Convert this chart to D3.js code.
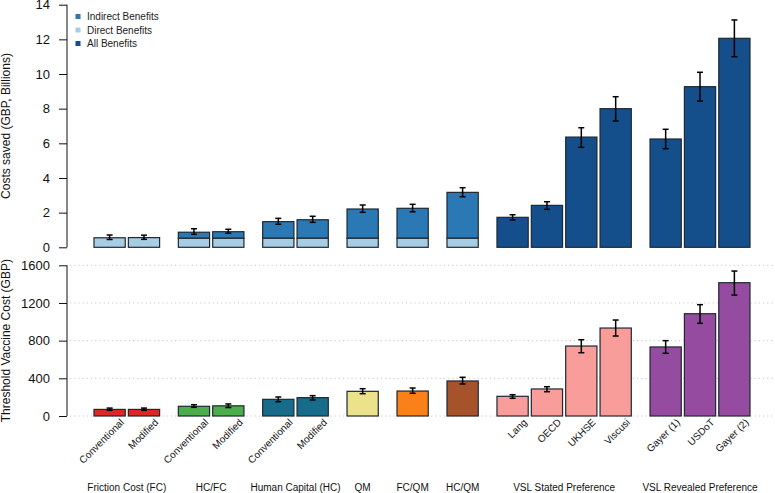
<!DOCTYPE html>
<html>
<head>
<meta charset="utf-8">
<script src="https://cdn.jsdelivr.net/npm/d3@7"></script>
<style>
  body { margin: 0; background: #fff; }
  svg { font-family: "Liberation Sans", Arial, Helvetica, sans-serif; display: block; }
</style>
</head>
<body>
<div class="board"></div>
<script>
const W = 775, H = 493

// bar labels, groups
const barLabels = ["Conventional", "Modified", "Conventional", "Modified", "Conventional", "Modified",
    "", "", "", "Lang", "OECD", "UKHSE", "Viscusi", "Gayer (1)", "USDoT", "Gayer (2)"]
const groupNames = ["Friction Cost (FC)", "HC/FC", "Human Capital (HC)", "QM", "FC/QM", "HC/QM",
    "VSL Stated Preference", "VSL Revealed Preference"]
const groupSizes = [2, 2, 2, 1, 1, 1, 4, 3]

// top panel: costs saved (GBP billions)
const savedTotal = [0.55, 0.56, 0.87, 0.90, 1.48, 1.59, 2.21, 2.25, 3.17, 1.73, 2.42, 6.36, 8.00, 6.25, 9.27, 12.06]
const savedLow   = [0.45, 0.46, 0.75, 0.81, 1.33, 1.44, 2.02, 2.05, 2.92, 1.58, 2.19, 5.77, 7.29, 5.69, 8.44, 11.00]
const savedHigh  = [0.71, 0.70, 1.07, 1.04, 1.67, 1.79, 2.44, 2.48, 3.44, 1.88, 2.63, 6.90, 8.69, 6.81, 10.10, 13.12]
// direct part of the stacked bars (null = "All Benefits" bar)
const savedDirect = [0.55, 0.56, 0.52, 0.52, 0.52, 0.52, 0.52, 0.52, 0.52, null, null, null, null, null, null, null]

// bottom panel: threshold vaccine cost (GBP)
const thresh     = [70, 70, 103, 108, 177, 195, 262, 265, 372, 209, 287, 743, 934, 733, 1086, 1415]
const threshLow  = [60, 60, 92, 90, 152, 170, 237, 241, 340, 188, 258, 672, 849, 666, 984, 1284]
const threshHigh = [84, 84, 120, 128, 202, 216, 290, 297, 411, 226, 311, 810, 1019, 800, 1182, 1539]

const topTicks = [0, 2, 4, 6, 8, 10, 12, 14]
const botTicks = [0, 400, 800, 1200, 1600]

const legendLabels = ["Indirect Benefits", "Direct Benefits", "All Benefits"]

const DIRECT = "#a7cde4"
const INDIRECT = "#2a79b4"
const ALL = "#154f8b"
const legendColors = [INDIRECT, DIRECT, ALL]
const groupColors = ["#dc2727", "#4bae4a", "#176b8b", "#ece28c", "#fa8019", "#a6532b", "#f99d9b", "#954b9f"]
const STROKE = "#1d2833"

var svg = d3.select(".board")
    .append("svg")
    .attr("width", W)
    .attr("height", H)

// bar layout in units of one bar width (R barplot style spacing)
let bars = []
let u = 0
groupSizes.forEach((n, g) => {
    if (g > 0) u += 0.6
    for (let k = 0; k < n; k++) {
        if (k > 0) u += 0.1
        bars.push({ i: bars.length, g: g, start: u })
        u += 1
    }
})
let xScale = d3.scaleLinear().domain([0, u]).range([94, 750])

let yTop = d3.scaleLinear().domain([0, 14]).range([247.3, 4.7])
let yBot = d3.scaleLinear().domain([0, 1600]).range([416, 265.3])

function yAxis(scale, ticks, title) {
    let ax = svg.append("g")
        .attr("transform", "translate(67,0)")
        .call(d3.axisLeft(scale).tickValues(ticks).tickSize(8).tickPadding(9).tickFormat(d3.format("d")))
    ax.select(".domain").attr("d", `M0,${scale(ticks[0])}V${scale(ticks[ticks.length - 1])}`)
        .attr("stroke", "#111")
    ax.selectAll(".tick line").attr("stroke", "#111")
    ax.selectAll(".tick text").attr("font-size", 13).attr("fill", "#111")
    let mid = (scale.range()[0] + scale.range()[1]) / 2
    svg.append("text")
        .attr("transform", `translate(10,${mid}) rotate(-90)`)
        .attr("text-anchor", "middle")
        .attr("font-size", 12)
        .attr("fill", "#111")
        .text(title)
}

// gridlines in the lower panel
svg.append("g").selectAll("line")
    .data(botTicks)
    .enter()
    .append("line")
    .attr("x1", 70).attr("x2", W)
    .attr("y1", d => yBot(d)).attr("y2", d => yBot(d))
    .attr("stroke", "#c8c8c8")
    .attr("stroke-dasharray", "1.2,3")

yAxis(yTop, topTicks, "Costs saved (GBP, Billions)")
yAxis(yBot, botTicks, "Threshold Vaccine Cost (GBP)")

let bw = xScale(1) - xScale(0)

// top panel bars
let topBars = svg.append("g")
bars.forEach(b => {
    let x = xScale(b.start)
    let d = savedDirect[b.i]
    if (d === null) {
        topBars.append("rect")
            .attr("x", x).attr("width", bw)
            .attr("y", yTop(savedTotal[b.i])).attr("height", yTop(0) - yTop(savedTotal[b.i]))
            .attr("fill", ALL).attr("stroke", STROKE).attr("stroke-width", 1.2)
    } else {
        if (savedTotal[b.i] > d) {
            topBars.append("rect")
                .attr("x", x).attr("width", bw)
                .attr("y", yTop(savedTotal[b.i])).attr("height", yTop(d) - yTop(savedTotal[b.i]))
                .attr("fill", INDIRECT).attr("stroke", STROKE).attr("stroke-width", 1.2)
        }
        topBars.append("rect")
            .attr("x", x).attr("width", bw)
            .attr("y", yTop(d)).attr("height", yTop(0) - yTop(d))
            .attr("fill", DIRECT).attr("stroke", STROKE).attr("stroke-width", 1.2)
    }
})

// bottom panel bars
svg.append("g").selectAll("rect")
    .data(bars)
    .enter()
    .append("rect")
    .attr("x", b => xScale(b.start)).attr("width", bw)
    .attr("y", b => yBot(thresh[b.i]))
    .attr("height", b => yBot(0) - yBot(thresh[b.i]))
    .attr("fill", b => groupColors[b.g])
    .attr("stroke", STROKE).attr("stroke-width", 1.2)

function errorBars(scale, lo, hi) {
    let g = svg.append("g").attr("stroke", "#000").attr("stroke-width", 1.5)
    bars.forEach(b => {
        let cx = xScale(b.start + 0.5)
        g.append("line").attr("x1", cx).attr("x2", cx)
            .attr("y1", scale(lo[b.i])).attr("y2", scale(hi[b.i]))
        ;[lo[b.i], hi[b.i]].forEach(v => {
            g.append("line").attr("x1", cx - 3).attr("x2", cx + 3)
                .attr("y1", scale(v)).attr("y2", scale(v))
        })
    })
}
errorBars(yTop, savedLow, savedHigh)
errorBars(yBot, threshLow, threshHigh)

// bar labels (rotated)
svg.append("g").selectAll("text")
    .data(bars.filter(b => barLabels[b.i] !== ""))
    .enter()
    .append("text")
    .attr("transform", b => `translate(${xScale(b.start + 0.5) + 15},423) rotate(-45)`)
    .attr("text-anchor", "end")
    .attr("font-size", 10)
    .attr("fill", "#111")
    .text(b => barLabels[b.i])

// group labels
svg.append("g").selectAll("text")
    .data(groupNames)
    .enter()
    .append("text")
    .attr("x", (d, g) => {
        let gb = bars.filter(b => b.g === g)
        return (xScale(gb[0].start) + xScale(gb[gb.length - 1].start + 1)) / 2
    })
    .attr("y", 491)
    .attr("text-anchor", "middle")
    .attr("font-size", 10)
    .attr("fill", "#111")
    .text(d => d)

// legend
let legend = svg.append("g")
legendLabels.forEach((l, i) => {
    let y = 16.5 + i * 13.5
    legend.append("rect")
        .attr("x", 75.5).attr("y", y - 2.5).attr("width", 5).attr("height", 5)
        .attr("fill", legendColors[i])
    legend.append("text")
        .attr("x", 87).attr("y", y + 3.5)
        .attr("font-size", 10)
        .attr("fill", "#222")
        .text(l)
})
</script>
</body>
</html>
